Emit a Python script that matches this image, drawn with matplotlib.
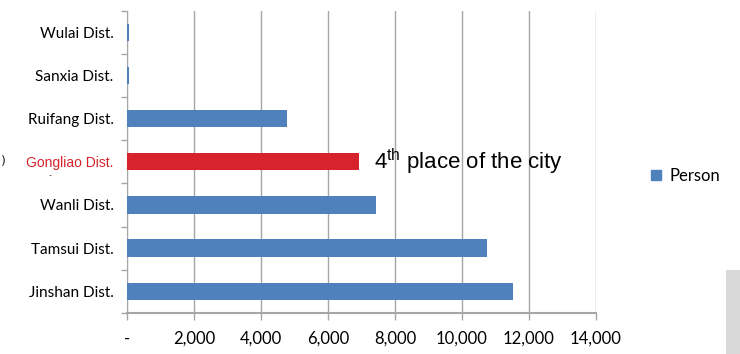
import matplotlib.pyplot as plt
from matplotlib.patches import Rectangle
from matplotlib.ticker import FuncFormatter

plt.rcParams['mathtext.fontset'] = 'custom'
plt.rcParams['mathtext.rm'] = 'Liberation Sans'

districts = ['Jinshan Dist.', 'Tamsui Dist.', 'Wanli Dist.', 'Gongliao Dist.',
             'Ruifang Dist.', 'Sanxia Dist.', 'Wulai Dist.']
persons = [11540, 10760, 7430, 6925, 4770, 30, 30]
highlight = 'Gongliao Dist.'
xticks = [0, 2000, 4000, 6000, 8000, 10000, 12000, 14000]

blue = '#4f81bd'
red = '#d7242c'
grid = '#a6a6a6'
narrow = ['Lato', 'DejaVu Sans']

fig = plt.figure(figsize=(7.4, 3.54), dpi=100)
ax = fig.add_axes([127.5/740, 41.3/354, (595.5-127.5)/740, (343-41.3)/354])

colors = [red if d == highlight else blue for d in districts]
bars = ax.barh(range(len(districts)), persons, height=0.4, color=colors, zorder=3, label='Person')

ax.set_xlim(0, 14000)
ax.set_ylim(-0.5, len(districts) - 0.5)
ax.set_xticks(xticks)
ax.xaxis.set_major_formatter(FuncFormatter(lambda v, p: '-' if v == 0 else '{:,.0f}'.format(v)))
ax.grid(axis='x', color=grid, linewidth=1, zorder=0)

ax.set_yticks(range(len(districts)))
ax.set_yticklabels(districts, fontfamily=narrow, fontsize=11)
ax.set_yticks([i - 0.5 for i in range(len(districts) + 1)], minor=True)
ax.tick_params(axis='y', which='major', length=0, pad=10)
ax.tick_params(axis='y', which='minor', length=4, color=grid, width=1)
ax.tick_params(axis='x', length=5, color=grid, width=1, pad=8, labelsize=12)
for lab in ax.get_xticklabels():
    lab.set_fontfamily(narrow)

for lab in ax.get_yticklabels():
    if lab.get_text() == highlight:
        lab.set_color(red)
        lab.set_fontfamily('Liberation Sans')
        lab.set_fontsize(10)

for s in ['top', 'right']:
    ax.spines[s].set_visible(False)
ax.spines['left'].set_color(grid)
ax.spines['bottom'].set_color(grid)
ax.spines['bottom'].set_linewidth(1.5)

gi = districts.index(highlight)
ax.text(7380, gi, '4$^{\\mathrm{th}}$ place of the city', fontfamily='Liberation Sans',
        fontsize=16, va='center', ha='left', zorder=4)

leg = fig.legend(handles=[bars[0]], labels=['Person'], loc='center left',
                 bbox_to_anchor=(636/740, 1 - 176/354), frameon=False,
                 handlelength=0.6, handleheight=0.6, handletextpad=0.5,
                 prop={'family': narrow, 'size': 12})
leg.legend_handles[0].set_color(blue)

fig.text(50/740, 1 - 176/354, '-', fontsize=6, color='#555555', ha='center', va='center')
fig.text(0.5/740, 1 - 162/354, ')', fontsize=9, color='#222222', ha='left', va='center')
fig.patches.append(Rectangle((726/740, 0), 14/740, 84/354, transform=fig.transFigure,
                             facecolor='#d9d9d9', edgecolor='none'))

fig.savefig('out.png', dpi=100)
